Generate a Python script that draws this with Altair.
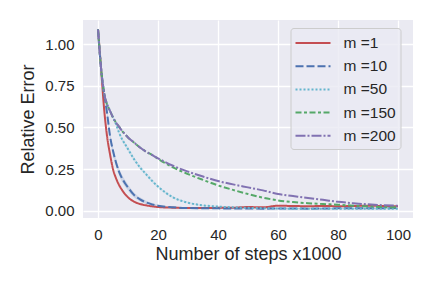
import altair as alt
import pandas as pd

steps = [0, 1, 2, 3, 4, 5, 6, 7, 8, 9, 10, 12, 14, 16, 18, 20, 25, 30, 35, 40,
         45, 50, 55, 60, 65, 70, 75, 80, 85, 90, 95, 100]

err_m1 = [1.09, 0.86, 0.62, 0.45, 0.34, 0.25, 0.195, 0.155, 0.125, 0.10, 0.08,
          0.055, 0.04, 0.032, 0.026, 0.022, 0.018, 0.016, 0.016, 0.017,
          0.018, 0.022, 0.02, 0.03, 0.028, 0.027, 0.028, 0.027, 0.028, 0.03, 0.028, 0.027]
err_m10 = [1.09, 0.86, 0.71, 0.59, 0.45, 0.36, 0.29, 0.235, 0.195, 0.165, 0.14,
           0.095, 0.068, 0.05, 0.038, 0.03, 0.02, 0.016, 0.015, 0.014,
           0.013, 0.013, 0.012, 0.013, 0.013, 0.012, 0.013, 0.014, 0.014, 0.015, 0.015, 0.016]
err_m50 = [1.09, 0.86, 0.71, 0.64, 0.60, 0.56, 0.52, 0.47, 0.43, 0.40, 0.37,
           0.31, 0.26, 0.22, 0.18, 0.145, 0.08, 0.048, 0.032, 0.025,
           0.02, 0.017, 0.015, 0.013, 0.012, 0.012, 0.011, 0.011, 0.011, 0.011, 0.011, 0.011]
err_m150 = [1.09, 0.86, 0.71, 0.64, 0.60, 0.56, 0.53, 0.505, 0.48, 0.46, 0.44,
            0.41, 0.38, 0.355, 0.335, 0.312, 0.26, 0.22, 0.185, 0.152,
            0.125, 0.10, 0.078, 0.062, 0.052, 0.045, 0.04, 0.036, 0.03, 0.026, 0.022, 0.02]
err_m200 = [1.09, 0.86, 0.71, 0.64, 0.60, 0.56, 0.53, 0.505, 0.48, 0.46, 0.44,
            0.41, 0.38, 0.355, 0.335, 0.315, 0.27, 0.235, 0.205, 0.178,
            0.158, 0.14, 0.122, 0.10, 0.088, 0.076, 0.065, 0.053, 0.045, 0.038, 0.033, 0.03]

# half-widths of the faint confidence bands
band_m10 = [0, 0.005, 0.015, 0.02, 0.022, 0.022, 0.022, 0.022, 0.021, 0.02, 0.018,
            0.015, 0.012, 0.01, 0.008, 0.006, 0.005, 0.004, 0.004, 0.004,
            0.004, 0.004, 0.004, 0.004, 0.004, 0.004, 0.004, 0.004, 0.004, 0.004, 0.004, 0.004]
band_m50 = [0, 0.004, 0.008, 0.01, 0.01, 0.01, 0.012, 0.012, 0.012, 0.012, 0.012,
            0.012, 0.011, 0.01, 0.009, 0.008, 0.006, 0.005, 0.004, 0.004,
            0.004, 0.004, 0.004, 0.004, 0.004, 0.004, 0.004, 0.004, 0.004, 0.004, 0.004, 0.004]

series = ["m =1", "m =10", "m =50", "m =150", "m =200"]
colors = ["#C44E52", "#4C72B0", "#64B5CD", "#55A868", "#8172B2"]
dashes = [[1, 0], [8, 3], [2, 2], [6, 2.5, 3, 2.5], [10, 2, 2, 2]]

rows = []
for name, vals in zip(series, [err_m1, err_m10, err_m50, err_m150, err_m200]):
    for s, v in zip(steps, vals):
        rows.append({"steps": s, "err": v, "m": name})
df = pd.DataFrame(rows)

band_rows = []
for name, vals, hw in [("m =10", err_m10, band_m10), ("m =50", err_m50, band_m50)]:
    for s, v, h in zip(steps, vals, hw):
        band_rows.append({"steps": s, "lo": v - h, "hi": v + h, "m": name})
bdf = pd.DataFrame(band_rows)

FONT = "Liberation Sans"
TXT = "#262626"

xscale = alt.Scale(domain=[-5, 105], nice=False, zero=False)
yscale = alt.Scale(domain=[-0.044, 1.146], nice=False, zero=False)

bands = []
for name, col in [("m =10", "#4C72B0"), ("m =50", "#64B5CD")]:
    bands.append(
        alt.Chart(bdf).transform_filter(alt.datum.m == name).mark_area(
            opacity=0.2, interpolate="monotone").encode(
            x=alt.X("steps:Q", scale=xscale),
            y=alt.Y("lo:Q", scale=yscale),
            y2="hi:Q",
            color=alt.value(col),
        )
    )

lines = alt.Chart(df).mark_line(strokeWidth=2, interpolate="monotone").encode(
    x=alt.X("steps:Q", scale=xscale,
            axis=alt.Axis(values=[0, 20, 40, 60, 80, 100], title="Number of steps x1000",
                          titleFontSize=18, titlePadding=3)),
    y=alt.Y("err:Q", scale=yscale,
            axis=alt.Axis(values=[0, 0.25, 0.5, 0.75, 1.0], format=".2f", title="Relative Error",
                          titleFontSize=18, titlePadding=7)),
    color=alt.Color("m:N", scale=alt.Scale(domain=series, range=colors),
                    legend=alt.Legend(title=None, orient="none", legendX=207.5, legendY=8,
                                      symbolType="M-1,0L2.5,0", symbolSize=400,
                                      symbolStrokeWidth=2, labelOffset=27,
                                      labelExpr="datum.label + '  '",
                                      labelFontSize=15.5, labelFont=FONT, labelColor=TXT,
                                      rowPadding=3.2, padding=4,
                                      fillColor="rgba(234,234,242,0.8)", strokeColor="#cccccc",
                                      cornerRadius=3)),
    strokeDash=alt.StrokeDash("m:N", scale=alt.Scale(domain=series, range=dashes), legend=None),
)

chart = alt.layer(*bands, lines).properties(
    width=330, height=198,
    padding={"left": 75, "top": 12, "right": 4, "bottom": 50},
    autosize=alt.AutoSizeParams(type="none"),
).configure_view(
    fill="#EAEAF2", stroke=None
).configure_axis(
    grid=True, gridColor="white", gridWidth=1.3, domain=False, ticks=False,
    labelFont=FONT, labelFontSize=15, labelColor=TXT, labelPadding=9,
    titleFont=FONT, titleColor=TXT, titleFontWeight="normal"
)

chart.save("out.html", embed_options={"renderer": "svg", "actions": False})
